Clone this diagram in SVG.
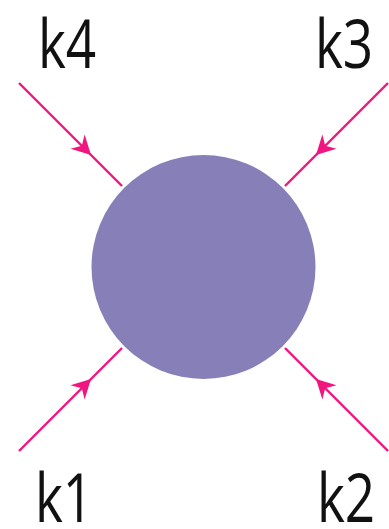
<svg xmlns="http://www.w3.org/2000/svg" width="389" height="529" viewBox="0 0 389 529">
<style>
.ln{stroke:#f0157f;stroke-width:2.4;fill:none}
.lbl{font-family:"Open Sans","Noto Sans",sans-serif;font-weight:400;font-size:68px;fill:#111}
</style>
<defs>
<path id="ah" d="M0,0 L-19,-10 L-13,0 L-19,10 Z" fill="#f0157f"/>
</defs>
<rect width="389" height="529" fill="#fff"/>
<g id="blob">
<circle cx="203.5" cy="267" r="112" fill="#8780b8"/>
</g>
<g id="connectors">
<line class="ln" x1="19" y1="83" x2="122" y2="186"/>
<line class="ln" x1="388" y1="83" x2="285" y2="186"/>
<line class="ln" x1="19" y1="451" x2="122" y2="348"/>
<line class="ln" x1="388" y1="451" x2="285" y2="348"/>
<use href="#ah" transform="translate(91,155) rotate(45)"/>
<use href="#ah" transform="translate(316,155) rotate(135)"/>
<use href="#ah" transform="translate(91,379) rotate(-45)"/>
<use href="#ah" transform="translate(316,379) rotate(-135)"/>
</g>
<g id="k4"><text class="lbl" transform="translate(38,68) scale(0.78,1)">k4</text></g>
<g id="k3"><text class="lbl" transform="translate(315,68) scale(0.78,1)">k3</text></g>
<g id="k1"><text class="lbl" transform="translate(35,522) scale(0.78,1)">k1</text></g>
<g id="k2"><text class="lbl" transform="translate(317,522) scale(0.78,1)">k2</text></g>
</svg>
